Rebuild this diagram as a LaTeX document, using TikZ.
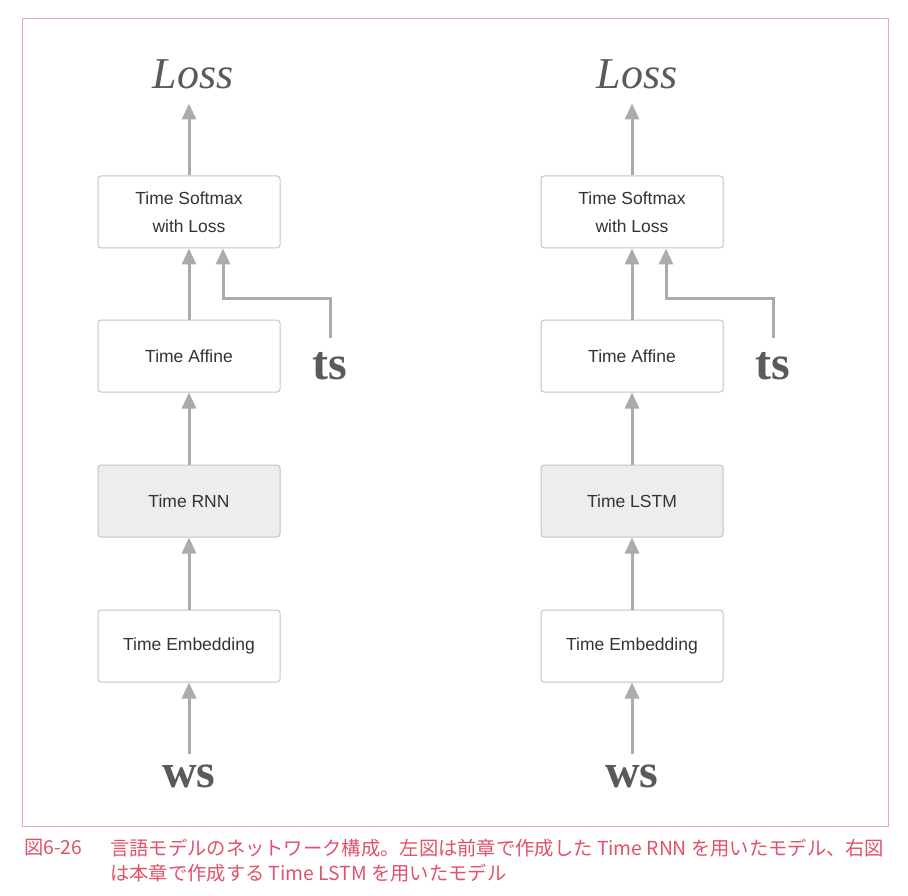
\documentclass[tikz,border=0pt]{standalone}
\usepackage{fontspec}
\setmainfont{Liberation Serif}
\setsansfont{Liberation Sans}
\newfontfamily\cjk{Noto Sans CJK JP}
\usetikzlibrary{arrows.meta,positioning}
\definecolor{flowgray}{HTML}{ABABAB}
\definecolor{edgegray}{HTML}{C4C4C4}
\definecolor{layerfill}{HTML}{EDEDED}
\definecolor{varink}{HTML}{5A5A5A}
\definecolor{capred}{HTML}{E2506A}
\definecolor{framered}{HTML}{EBA8A8}
\begin{document}
\begin{tikzpicture}[x=1pt,y=-1pt,
  layer/.style={draw=edgegray,line width=1pt,rounded corners=3pt,fill=white,
    minimum width=182pt,minimum height=72pt,align=center,
    font=\sffamily\fontsize{17.5}{28}\selectfont,text=black!80},
  shaded/.style={layer,fill=layerfill},
  flow/.style={draw=flowgray,line width=3pt,
    -{Triangle[width=14pt,length=16pt]}},
  var/.style={font=\bfseries\fontsize{48}{48}\selectfont,text=varink,inner sep=0pt},
  lossname/.style={font=\itshape\fontsize{44}{44}\selectfont,text=varink,inner sep=0pt},
  caption/.style={anchor=west,inner sep=0pt,text=capred,font=\cjk\fontsize{19.3}{19.3}\selectfont}]
\useasboundingbox (0,0) rectangle (908,896);
% ====================
% Outer frame
\draw[framered,line width=0.8pt] (22,18) rectangle (888,826);

% ====================
% Left: network built with Time RNN
\node[layer]  (lsoft) at (189,212) {Time Softmax\\with Loss};
\node[layer]  (laff)  at (189,356) {Time Affine};
\node[shaded] (lrnn)  at (189,501) {Time RNN};
\node[layer]  (lemb)  at (189,646) {Time Embedding};
\node[lossname] (lloss) at (193,74) {Loss};
\node[var] (lws) at (189,776) {ws};
\node[var] (lts) at (330,366) {ts};
\coordinate (ltsup) at (330,338);
\coordinate (ltsin) at ([xshift=34pt]lsoft.south);
% Arrows between layers
\draw[flow] (lws.north) ++(0,-10) -- (lemb.south);
\draw[flow] (lemb) -- (lrnn);
\draw[flow] (lrnn) -- (laff);
\draw[flow] (laff) -- (lsoft);
\draw[flow] (lsoft.north) -- ++(0,-72);
% Teacher labels into the loss layer
\draw[flow] (ltsup) |- ([yshift=-50pt]ltsin) -- (ltsin);

% ====================
% Right: network built with Time LSTM
\node[layer]  (rsoft) at (632,212) {Time Softmax\\with Loss};
\node[layer]  (raff)  at (632,356) {Time Affine};
\node[shaded] (rlstm) at (632,501) {Time LSTM};
\node[layer]  (remb)  at (632,646) {Time Embedding};
\node[lossname] (rloss) at (637,74) {Loss};
\node[var] (rws) at (632,776) {ws};
\node[var] (rts) at (773,366) {ts};
\coordinate (rtsup) at (773,338);
\coordinate (rtsin) at ([xshift=34pt]rsoft.south);
% Arrows between layers
\draw[flow] (rws.north) ++(0,-10) -- (remb.south);
\draw[flow] (remb) -- (rlstm);
\draw[flow] (rlstm) -- (raff);
\draw[flow] (raff) -- (rsoft);
\draw[flow] (rsoft.north) -- ++(0,-72);
% Teacher labels into the loss layer
\draw[flow] (rtsup) |- ([yshift=-50pt]rtsin) -- (rtsin);

% ====================
% Caption
\node[caption] (capnum) at (24,848) {図6-26};
\node[caption] (capone) at (110,848) {言語モデルのネットワーク構成。左図は前章で作成した Time RNN を用いたモデル、右図};
\node[caption] (captwo) at (110,873) {は本章で作成する Time LSTM を用いたモデル};
\end{tikzpicture}
\end{document}
